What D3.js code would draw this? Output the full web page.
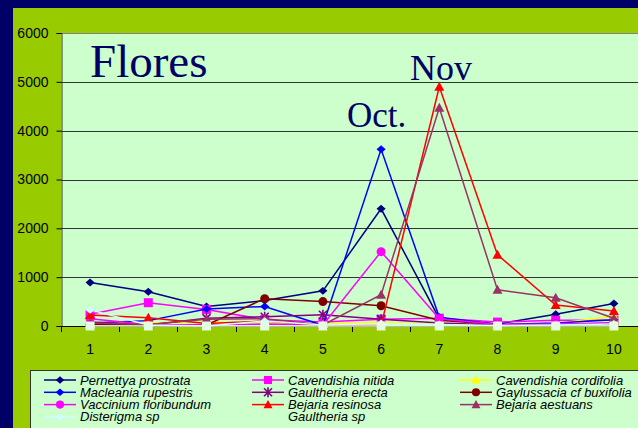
<!DOCTYPE html>
<html>
<head>
<meta charset="utf-8">
<script src="https://cdn.jsdelivr.net/npm/d3@7"></script>
<style>
  body { margin: 0; background: #000066; }
  svg { display: block; }
</style>
</head>
<body>
<svg id="chart"></svg>
<script>
var months = ['1', '2', '3', '4', '5', '6', '7', '8', '9', '10'];
var yTicks = [0, 1000, 2000, 3000, 4000, 5000, 6000];

var pernettya    = [890, 700, 400, 520, 720, 2400, 150, 40, 240, 460];
var cavNitida    = [240, 477, 340, 130, 80, 140, 160, 80, 120, 120];
var cavCordifolia = [40, 60, 80, 60, 40, 80, 30, 20, 50, 200];
var macleania    = [60, 110, 350, 400, 15, 3620, 180, 30, 60, 130];
var gaulErecta   = [80, 20, 160, 190, 230, 140, 60, 20, 30, 60];
var gaylussacia  = [30, 20, 20, 560, 500, 415, 120, 30, 20, 30];
var vaccinium    = [150, 30, 20, 40, 20, 1523, 150, 30, 40, 60];
var bejResinosa  = [225, 170, 50, 100, 10, 10, 4900, 1460, 430, 305];
var bejAestuans  = [60, 30, 140, 150, 20, 640, 4470, 740, 580, 160];
var disterigma   = [330, 20, 0, 100, 20, 50, 30, 10, 20, 40];
var gaulSp       = [0, 0, 0, 0, 0, 0, 0, 0, 0, 0];

var series = [
  {name: 'Pernettya prostrata', values: pernettya, color: '#000080', marker: 'diamond'},
  {name: 'Cavendishia nitida', values: cavNitida, color: '#FF00FF', marker: 'square'},
  {name: 'Cavendishia cordifolia', values: cavCordifolia, color: '#FFFF00', marker: 'triangle'},
  {name: 'Macleania rupestris', values: macleania, color: '#0000FF', marker: 'diamond'},
  {name: 'Gaultheria erecta', values: gaulErecta, color: '#800080', marker: 'star'},
  {name: 'Gaylussacia cf buxifolia', values: gaylussacia, color: '#800000', marker: 'circle'},
  {name: 'Vaccinium floribundum', values: vaccinium, color: '#FF00FF', marker: 'circle'},
  {name: 'Bejaria resinosa', values: bejResinosa, color: '#FF0000', marker: 'triangle'},
  {name: 'Bejaria aestuans', values: bejAestuans, color: '#993366', marker: 'triangle'},
  {name: 'Disterigma sp', values: disterigma, color: '#CCFFFF', marker: 'diamond'},
  {name: 'Gaultheria sp', values: gaulSp, color: '#E4FBE4', marker: 'square'}
];

var width = 638,
    height = 428;

var svg = d3.select('#chart')
    .attr('width', width)
    .attr('height', height);

// frame
svg.append('rect')
  .attr('width', width).attr('height', height)
  .attr('fill', '#000066');
svg.append('rect')
  .attr('x', 13).attr('y', 8)
  .attr('width', width - 13).attr('height', height - 8)
  .attr('fill', '#99CC00');

var x = d3.scalePoint()
    .domain(months)
    .range([61, 643])
    .padding(0.5);

var y = d3.scaleLinear()
    .domain([0, 6000])
    .range([326, 33]);

// plot area
svg.append('rect')
  .attr('x', 61).attr('y', y(6000))
  .attr('width', width - 61).attr('height', y(0) - y(6000))
  .attr('fill', '#CCFFCC');

svg.selectAll('.grid')
  .data(yTicks.filter(function(d) { return d > 0; }))
  .enter().append('line')
  .attr('x1', 61).attr('x2', width)
  .attr('y1', function(d) { return Math.round(y(d)) + 0.5; })
  .attr('y2', function(d) { return Math.round(y(d)) + 0.5; })
  .attr('stroke', function(d) { return d == 6000 ? '#808080' : '#333'; })
  .attr('stroke-width', 1);

// y axis
var yAxis = svg.append('g')
  .attr('transform', 'translate(61.5,0)')
  .call(d3.axisLeft(y).tickValues(yTicks).tickSize(5).tickPadding(8).tickFormat(d3.format('d')));
yAxis.select('.domain').attr('stroke', '#333');
yAxis.selectAll('text')
  .attr('font-family', 'Arial, "Liberation Sans", sans-serif')
  .attr('font-size', 14)
  .attr('fill', '#000');

// x axis
var step = x.step();
var boundaries = d3.range(0, months.length + 1).map(function(i) { return 61 + i * step; });

svg.append('line')
  .attr('x1', 61).attr('x2', width)
  .attr('y1', 326.5).attr('y2', 326.5)
  .attr('stroke', '#000');

svg.selectAll('.xtick')
  .data(boundaries)
  .enter().append('line')
  .attr('x1', function(d) { return Math.round(d) + 0.5; })
  .attr('x2', function(d) { return Math.round(d) + 0.5; })
  .attr('y1', 326).attr('y2', 332)
  .attr('stroke', '#000');

svg.selectAll('.xlabel')
  .data(months)
  .enter().append('text')
  .text(function(d) { return d; })
  .attr('x', function(d) { return x(d); })
  .attr('y', 354)
  .attr('font-family', 'Arial, "Liberation Sans", sans-serif')
  .attr('font-size', 14)
  .style('text-anchor', 'middle');

// markers
function marker(g, type, color, size) {
  var s = size || 1;
  if (type == 'diamond') {
    g.append('path').attr('d', d3.symbol(d3.symbolDiamond2, 40 * s)).attr('fill', color)
      .attr('transform', 'scale(1.15,1)');
  } else if (type == 'square') {
    g.append('rect').attr('x', -4.5 * s).attr('y', -4.5 * s)
      .attr('width', 9 * s).attr('height', 9 * s).attr('fill', color);
  } else if (type == 'triangle') {
    g.append('path').attr('d', 'M0,' + (-5 * s) + 'L' + (5 * s) + ',' + (4 * s) + 'L' + (-5 * s) + ',' + (4 * s) + 'Z')
      .attr('fill', color);
  } else if (type == 'circle') {
    g.append('circle').attr('r', 4.5 * s).attr('fill', color);
  } else if (type == 'star') {
    g.append('path').attr('d', 'M-4,-4L4,4M-4,4L4,-4M0,-5L0,5')
      .attr('stroke', color).attr('stroke-width', 1.6).attr('fill', 'none');
  }
}

var line = d3.line()
    .x(function(d, i) { return x(months[i]); })
    .y(function(d) { return y(d); });

series.forEach(function(s) {
  var g = svg.append('g');
  g.append('path')
    .datum(s.values)
    .attr('d', line)
    .attr('fill', 'none')
    .attr('stroke', s.color)
    .attr('stroke-width', 1.5);
  g.selectAll('.pt')
    .data(s.values)
    .enter().append('g')
    .attr('transform', function(d, i) { return 'translate(' + x(months[i]) + ',' + y(d) + ')'; })
    .each(function() { marker(d3.select(this), s.marker, s.color); });
});

// titles
svg.append('text')
  .text('Flores')
  .attr('x', 90).attr('y', 77)
  .attr('font-family', '"Liberation Serif", "Times New Roman", serif')
  .attr('font-size', 47)
  .attr('fill', '#000066');

svg.append('text')
  .text('Oct.')
  .attr('x', 347).attr('y', 127)
  .attr('font-family', '"Liberation Serif", "Times New Roman", serif')
  .attr('font-size', 35)
  .attr('fill', '#000066');

svg.append('text')
  .text('Nov')
  .attr('x', 410).attr('y', 80)
  .attr('font-family', '"Liberation Serif", "Times New Roman", serif')
  .attr('font-size', 36)
  .attr('fill', '#000066');

// legend
svg.append('rect')
  .attr('x', 30.5).attr('y', 370.5)
  .attr('width', 620).attr('height', 80)
  .attr('fill', '#CCFFCC')
  .attr('stroke', '#333');

var colX = [44, 252, 460];
var legend = svg.selectAll('.leg')
  .data(series)
  .enter().append('g')
  .attr('transform', function(d, i) {
    return 'translate(' + colX[i % 3] + ',' + (380 + Math.floor(i / 3) * 12.3) + ')';
  });

legend.append('line')
  .attr('x1', 0).attr('x2', 32)
  .attr('stroke', function(d) { return d.name == 'Gaultheria sp' ? '#CCFFCC' : d.color; })
  .attr('stroke-width', 1.5);

legend.each(function(d) {
  var g = d3.select(this).append('g').attr('transform', 'translate(16,0)');
  if (d.name != 'Gaultheria sp') marker(g, d.marker, d.color, 0.9);
});

legend.append('text')
  .text(function(d) { return d.name; })
  .attr('x', 36).attr('y', 4.5)
  .attr('font-family', 'Arial, "Liberation Sans", sans-serif')
  .attr('font-size', 13)
  .attr('font-style', 'italic')
  .attr('fill', '#000');
</script>
</body>
</html>
